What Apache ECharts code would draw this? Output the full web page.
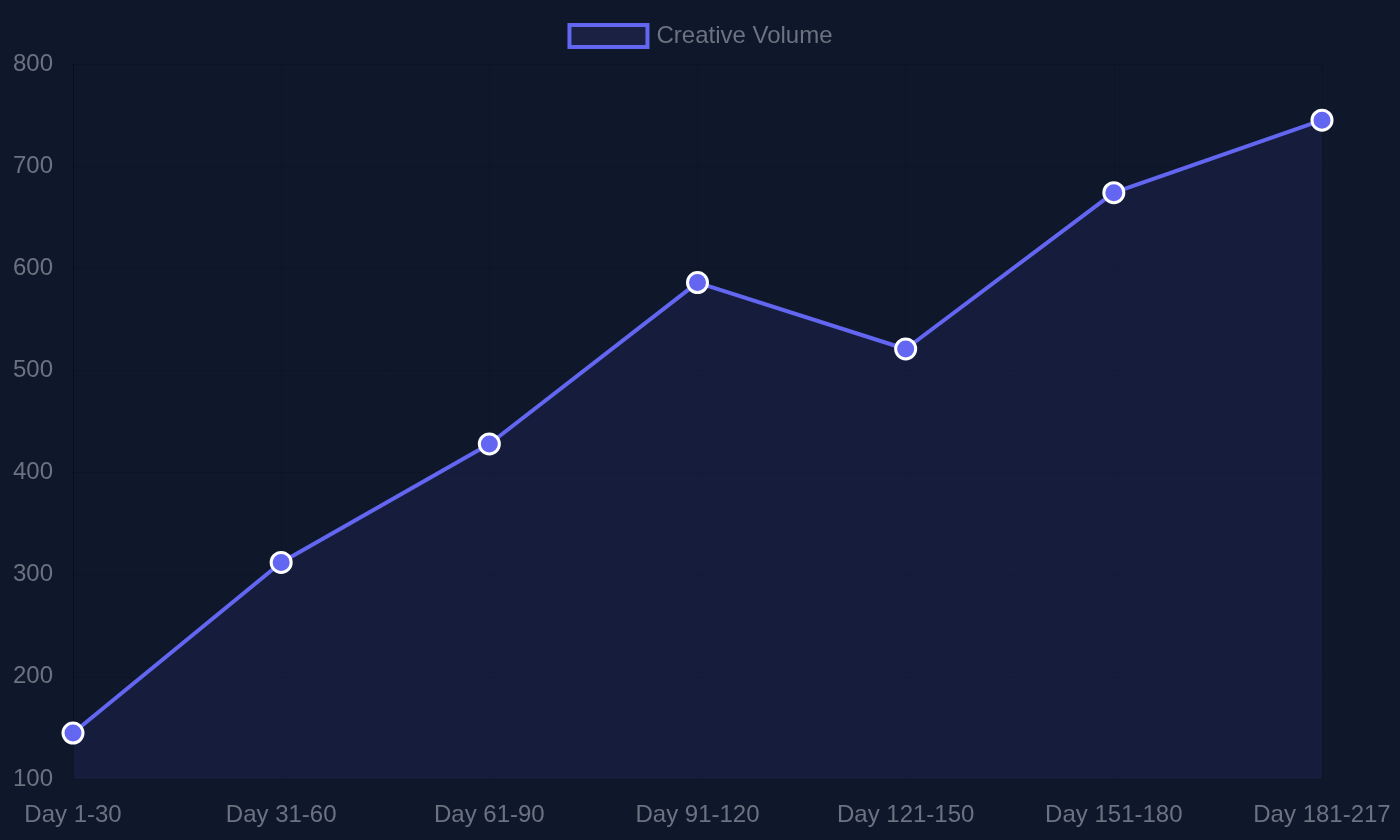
<!DOCTYPE html>
<html><head><meta charset="utf-8">
<script src="https://cdn.jsdelivr.net/npm/echarts@6/dist/echarts.min.js"></script>
<style>html,body{margin:0;padding:0;background:#0f172a;}#c{width:1400px;height:840px;}</style>
</head><body><div id="c"></div>
<script>
const categories = ['Day 1-30','Day 31-60','Day 61-90','Day 91-120','Day 121-150','Day 151-180','Day 181-217'];
const creativeVolume = [145, 312, 428, 586, 521, 674, 745];
const chart = echarts.init(document.getElementById('c'));
chart.setOption({
  backgroundColor: '#0f172a',
  textStyle: {fontFamily: 'Liberation Sans, Arial, sans-serif'},
  legend: {
    top: 18, left: 'center', icon: 'rect', itemWidth: 78, itemHeight: 22, itemGap: 12,
    textStyle: {color: '#6b7280', fontSize: 24, padding: [0,0,0,4]},
    data: [{name: 'Creative Volume', itemStyle: {color: 'rgba(99,102,241,0.13)', borderColor: '#6366f1', borderWidth: 4}}]
  },
  grid: {left: 73, right: 78, top: 64, bottom: 61, containLabel: false},
  xAxis: {
    type: 'category', data: categories, boundaryGap: false,
    axisLine: {show: false}, axisTick: {show: false},
    axisLabel: {color: '#6b7280', fontSize: 24, margin: 24},
    splitLine: {show: true, lineStyle: {color: 'rgba(0,0,0,0.12)'}}
  },
  yAxis: {
    type: 'value', min: 100, max: 800, interval: 100,
    axisLine: {show: true, lineStyle: {color: 'rgba(0,0,0,0.35)'}}, axisTick: {show: false},
    axisLabel: {color: '#6b7280', fontSize: 24, margin: 20},
    splitLine: {lineStyle: {color: 'rgba(0,0,0,0.12)'}}
  },
  series: [{
    name: 'Creative Volume', type: 'line', data: creativeVolume,
    symbol: 'circle', symbolSize: 20,
    lineStyle: {color: '#6366f1', width: 4},
    itemStyle: {color: '#6366f1', borderColor: '#ffffff', borderWidth: 3},
    areaStyle: {color: 'rgba(99,102,241,0.13)', origin: 'start'},
    emphasis: {disabled: true}
  }]
});
</script></body></html>
